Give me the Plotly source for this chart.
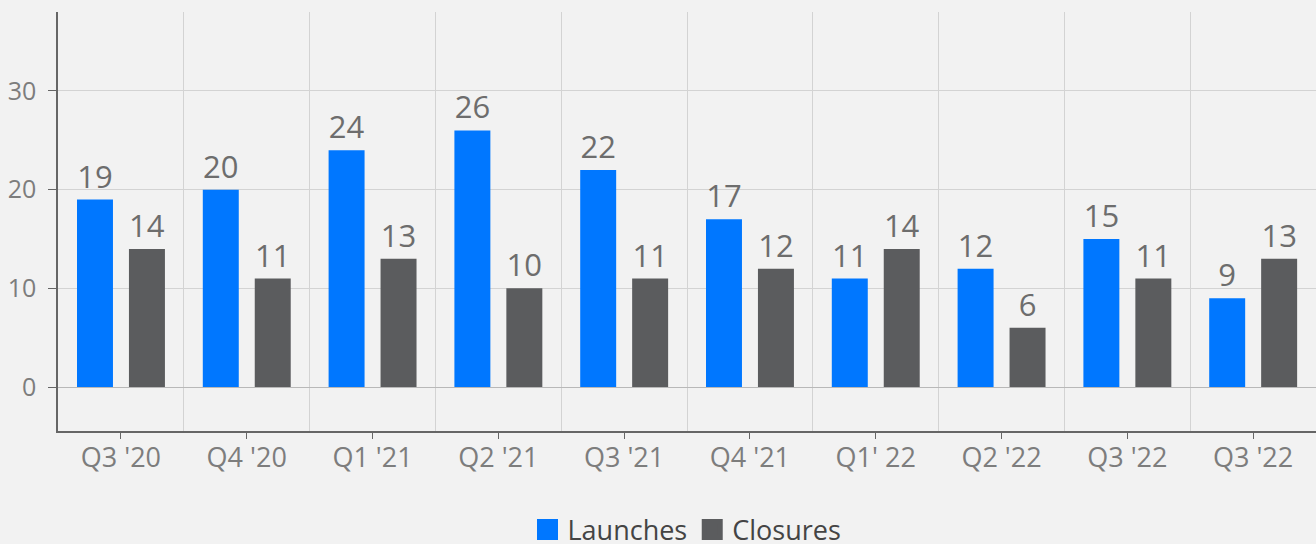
import plotly.graph_objects as go

# data
quarters = ["Q3 '20", "Q4 '20", "Q1 '21", "Q2 '21", "Q3 '21", "Q4 '21",
            "Q1' 22", "Q2 '22", "Q3 '22", "Q3 '22"]
launches = [19, 20, 24, 26, 22, 17, 11, 12, 15, 9]
closures = [14, 11, 13, 10, 11, 12, 14, 6, 11, 13]

pos = list(range(len(quarters)))
font = "Open Sans"
blue = "#0077ff"
grey = "#5b5c5e"

fig = go.Figure()
fig.add_trace(go.Bar(x=pos, y=launches, name="Launches", showlegend=False,
                     marker=dict(color=blue, line=dict(width=0)),
                     width=0.286, offset=-0.349,
                     text=launches, textposition="outside",
                     textfont=dict(family=font, size=31, color="#6d6d6d"),
                     cliponaxis=False))
fig.add_trace(go.Bar(x=pos, y=closures, name="Closures", showlegend=False,
                     marker=dict(color=grey, line=dict(width=0)),
                     width=0.286, offset=0.064,
                     text=closures, textposition="outside",
                     textfont=dict(family=font, size=31, color="#6d6d6d"),
                     cliponaxis=False))

# legend entries with bigger square swatches
for name, col in [("Launches", blue), ("Closures", grey)]:
    fig.add_trace(go.Scatter(x=[None], y=[None], mode="markers", name=name,
                             marker=dict(symbol="square", size=16, color=col,
                                         line=dict(color=col, width=6))))

fig.update_layout(
    width=1316, height=544,
    margin=dict(l=58, r=0, t=12, b=113),
    paper_bgcolor="#f2f2f2", plot_bgcolor="#f2f2f2",
    barmode="overlay",
    font=dict(family=font, color="#777777"),
    xaxis=dict(range=[-0.5, 9.5], tickvals=pos, ticktext=quarters,
               showgrid=False, showline=True, linecolor="#666666", linewidth=1.5,
               ticks="outside", ticklen=6, tickcolor="#666666",
               ticklabelstandoff=-4,
               tickfont=dict(size=27, color="#7d7d7d"),
               minor=dict(tickvals=[i + 0.5 for i in pos[:-1]], showgrid=True,
                          gridcolor="#d3d3d3", gridwidth=1, ticks="")),
    yaxis=dict(range=[-4.45, 38], tickvals=[0, 10, 20, 30],
               showgrid=True, gridcolor="#d3d3d3", gridwidth=1,
               zeroline=True, zerolinecolor="#b8b8b8", zerolinewidth=1,
               showline=True, linecolor="#666666", linewidth=1.5,
               ticks="outside", ticklen=8, tickcolor="#666666",
               ticklabelstandoff=7,
               tickfont=dict(size=25, color="#7d7d7d")),
    legend=dict(orientation="h", x=0.5, xanchor="center",
                yref="container", y=0.026, yanchor="middle",
                font=dict(size=27, color="#444444"), traceorder="normal",
                itemwidth=30),
)

fig.write_html("out.html", config={"displayModeBar": False},
               post_script="document.body.style.margin='0';")
